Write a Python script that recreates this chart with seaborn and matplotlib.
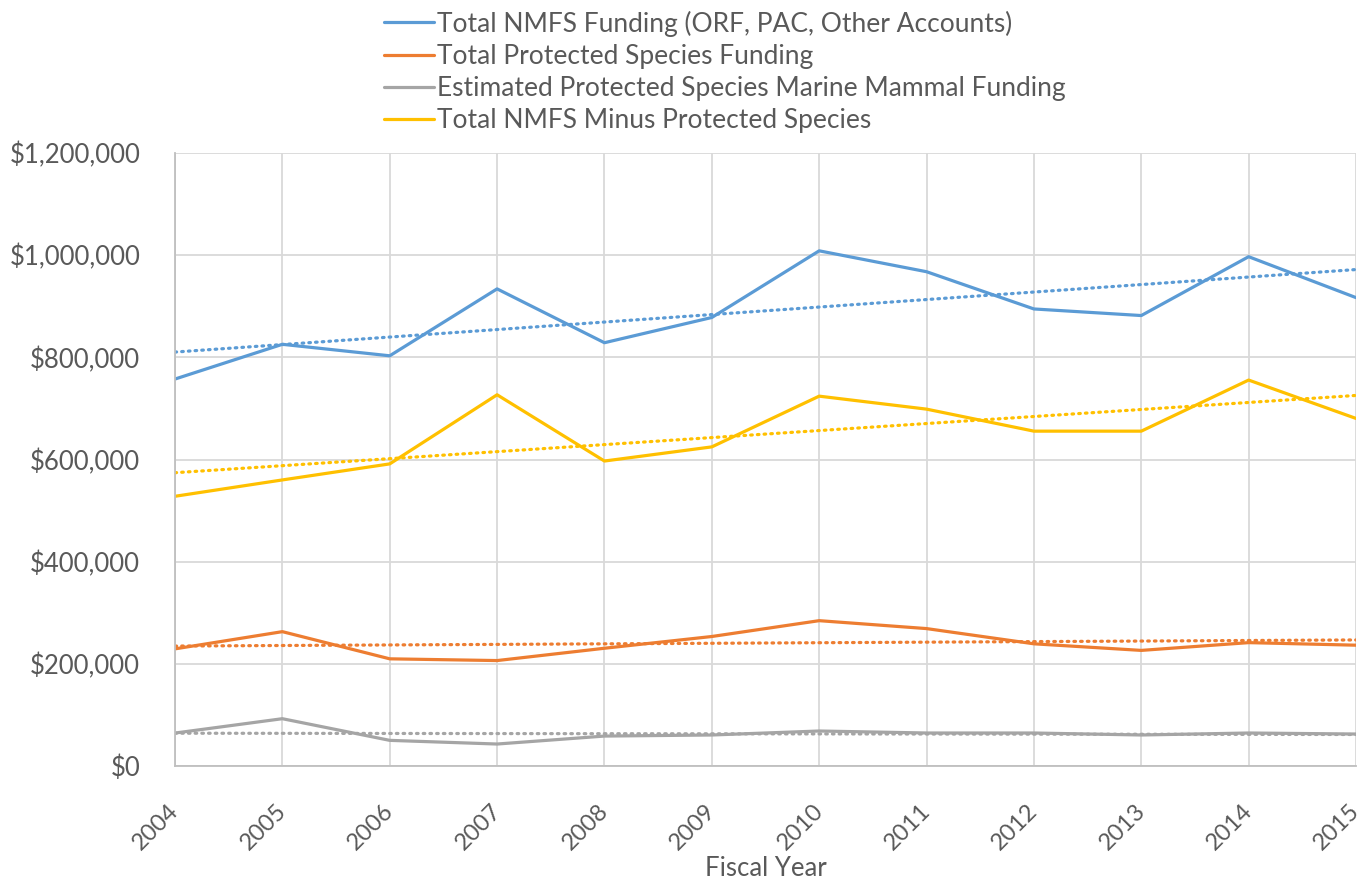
import numpy as np
import pandas as pd
import matplotlib
matplotlib.use("Agg")
import matplotlib.pyplot as plt
import matplotlib.transforms as mtrans
from matplotlib.ticker import FuncFormatter
import seaborn as sns

years = [2004, 2005, 2006, 2007, 2008, 2009, 2010, 2011, 2012, 2013, 2014, 2015]

total_nmfs = [757500, 825500, 803000, 934000, 828600, 878000,
              1008500, 967600, 894700, 881800, 997000, 916900]
protected = [229300, 263000, 209800, 206400, 230500, 253500,
             284500, 269000, 239200, 226300, 241500, 236500]
marine_mammal = [64500, 92600, 50200, 43000, 58600, 60700,
                 68500, 64600, 64600, 60700, 64600, 62600]
nmfs_minus = [528000, 560000, 591400, 726700, 597000, 624700,
              724000, 698600, 655500, 655500, 755500, 680400]

series_names = [
    "Total NMFS Funding (ORF, PAC, Other Accounts)",
    "Total Protected Species Funding",
    "Estimated Protected Species Marine Mammal Funding",
    "Total NMFS Minus Protected Species",
]
colors = ["#5b9bd5", "#ed7d31", "#a5a5a5", "#ffc000"]

df = pd.DataFrame({"year": years})
for name, vals in zip(series_names, [total_nmfs, protected, marine_mammal, nmfs_minus]):
    df[name] = vals
long_df = df.melt(id_vars="year", var_name="series", value_name="funding")

sns.set_theme(style="white")
plt.rcParams["font.family"] = ["Lato", "DejaVu Sans"]
text_color = "#595959"

fig = plt.figure(figsize=(13.69, 8.82), dpi=100)
ax = fig.add_axes([175 / 1369, 1 - 766 / 882, (1356 - 175) / 1369, (766 - 153) / 882])

sns.lineplot(data=long_df, x="year", y="funding", hue="series",
             hue_order=series_names, palette=colors, linewidth=2.3, ax=ax)

# linear trend lines (dotted), like Excel trendlines
for name, c in zip(series_names, colors):
    slope, intercept = np.polyfit(df["year"], df[name], 1)
    ax.plot(df["year"], slope * df["year"] + intercept, color=c,
            linestyle=(0, (0.5, 1.6)), dash_capstyle="round", linewidth=2.3)

ax.set_xlim(2004, 2015)
ax.set_ylim(0, 1200000)
ax.set_yticks(np.arange(0, 1200001, 200000))
ax.set_xticks(years)
ax.yaxis.set_major_formatter(FuncFormatter(lambda v, p: f"${v:,.0f}"))
ax.grid(True, color="#d9d9d9", linewidth=1.3)
ax.set_axisbelow(True)
for side in ["top", "right"]:
    ax.spines[side].set_visible(False)
for side in ["left", "bottom"]:
    ax.spines[side].set_color("#bfbfbf")
    ax.spines[side].set_linewidth(1.3)

ax.tick_params(axis="both", colors=text_color, labelsize=18.5, length=0)
ax.tick_params(axis="x", labelsize=17, pad=16)
ax.tick_params(axis="y", pad=25)
shift = mtrans.ScaledTranslation(-7 / 100, -12 / 100, fig.dpi_scale_trans)
for lbl in ax.get_xticklabels():
    lbl.set_rotation(45)
    lbl.set_ha("right")
    lbl.set_rotation_mode("anchor")
    lbl.set_transform(lbl.get_transform() + shift)
ax.set_xlabel("Fiscal Year", fontsize=18.5, color=text_color)
ax.xaxis.set_label_coords(0.5, -0.147)
ax.set_ylabel("")

handles, labels = ax.get_legend_handles_labels()
ax.legend_.remove()
fig.legend(handles[:4], labels[:4], loc="upper left",
           bbox_to_anchor=(368 / 1369, 1.006), frameon=False, fontsize=19,
           labelcolor=text_color, handlelength=1.9, handletextpad=0.12,
           labelspacing=0.27, borderaxespad=0.2)

fig.savefig("out.png", dpi=100, facecolor="white")
